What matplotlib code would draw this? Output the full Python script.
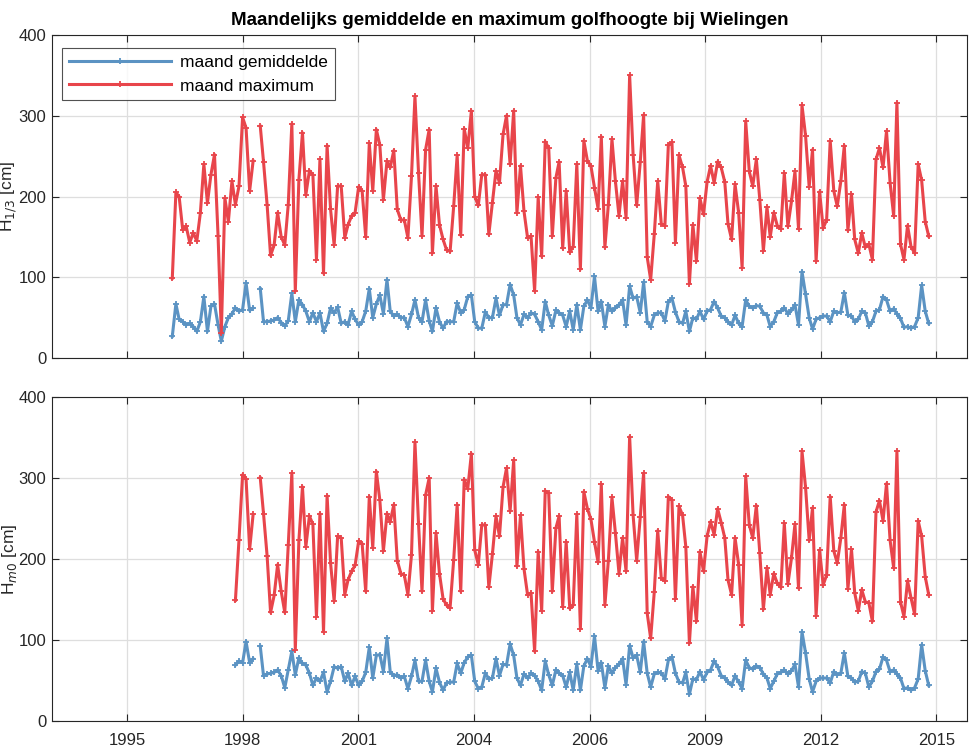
import numpy as np
import pandas as pd
import matplotlib
matplotlib.use('Agg')
import matplotlib.pyplot as plt

plt.rcParams['font.family'] = ['Liberation Sans', 'DejaVu Sans']

nan = np.nan

# monthly values, H1/3 (top panel), starting January 1997
h13_mean = [27, 67, 48, 45, 41, 43, 39, 33, 45, 76, 33, 64, 67, 41, 21, 39, 50, 55, 62, 58,
            60, 93, 59, 62, nan, 86, 45, 45, 46, 47, 50, 44, 40, 46, 80, 45, 72, 66, 58, 45,
            56, 45, 56, 33, 43, 62, 56, 63, 43, 45, 41, 58, 48, 41, 45, 58, 86, 50, 67, 78,
            55, 97, 58, 52, 54, 50, 50, 39, 54, 72, 50, 45, 72, 46, 33, 62, 45, 37, 45, 45,
            45, 68, 56, 60, 76, 78, 45, 37, 37, 57, 50, 50, 74, 53, 66, 66, 91, 78, 50, 41,
            54, 50, 56, 54, 45, 35, 70, 53, 40, 59, 56, 53, 39, 58, 35, 66, 35, 64, 72, 62,
            101, 58, 70, 39, 66, 58, 62, 66, 72, 41, 89, 74, 76, 56, 94, 45, 39, 53, 56, 56,
            46, 70, 74, 57, 45, 43, 58, 33, 50, 48, 58, 48, 58, 60, 70, 62, 52, 50, 45, 41,
            53, 43, 39, 72, 64, 62, 65, 64, 56, 53, 39, 45, 56, 58, 62, 55, 59, 66, 41, 107,
            79, 50, 36, 48, 50, 52, 52, 45, 58, 56, 57, 81, 53, 52, 45, 48, 58, 56, 40, 45,
            58, 60, 76, 72, 58, 61, 55, 49, 38, 39, 37, 39, 50, 90, 58, 43]
h13_max = [99, 205, 200, 159, 163, 143, 155, 145, 180, 240, 192, 227, 252, 151, 31, 198, 169, 219, 190, 213,
           298, 285, 207, 244, nan, 287, 243, 190, 127, 140, 180, 150, 140, 190, 290, 83, 221, 279, 202, 232,
           227, 122, 246, 105, 263, 184, 140, 213, 213, 149, 165, 176, 180, 212, 207, 150, 266, 207, 283, 264,
           196, 244, 236, 257, 184, 171, 171, 149, 225, 324, 229, 151, 258, 283, 130, 213, 165, 147, 134, 132,
           188, 251, 152, 284, 260, 306, 200, 189, 227, 227, 153, 192, 232, 217, 277, 300, 240, 306, 180, 238,
           182, 149, 151, 83, 199, 126, 268, 260, 151, 223, 243, 136, 207, 131, 138, 240, 110, 269, 244, 238,
           211, 185, 274, 137, 190, 271, 219, 176, 219, 174, 350, 252, 189, 243, 301, 125, 97, 153, 219, 166,
           164, 264, 267, 143, 251, 236, 213, 92, 165, 120, 198, 178, 218, 238, 217, 243, 236, 218, 166, 147,
           215, 180, 112, 293, 231, 213, 246, 196, 133, 187, 150, 180, 164, 160, 229, 163, 194, 231, 160, 313,
           275, 212, 258, 120, 206, 161, 171, 269, 207, 188, 219, 263, 158, 203, 147, 130, 155, 137, 141, 122,
           246, 260, 236, 281, 217, 176, 316, 141, 122, 164, 138, 130, 240, 220, 169, 151]

# monthly values, Hm0 (bottom panel), starting July 1998
hm0_mean = [69, 74, 72, 98, 72, 77, nan, 92, 56, 58, 59, 60, 63, 56, 41, 63, 86, 57, 78, 71,
            69, 59, 44, 53, 49, 60, 36, 49, 67, 65, 67, 49, 59, 44, 55, 44, 49, 60, 91, 53,
            81, 82, 61, 102, 61, 56, 57, 53, 55, 40, 55, 75, 49, 49, 75, 49, 36, 65, 48, 38,
            47, 48, 48, 71, 59, 72, 79, 81, 49, 40, 42, 59, 52, 53, 77, 56, 70, 69, 95, 81,
            53, 44, 58, 53, 59, 56, 49, 38, 74, 57, 44, 63, 59, 56, 42, 60, 38, 70, 38, 68,
            77, 67, 105, 62, 72, 41, 68, 59, 66, 70, 77, 45, 93, 78, 81, 60, 98, 59, 42, 58,
            60, 59, 52, 75, 79, 59, 48, 47, 60, 33, 52, 51, 61, 51, 60, 63, 74, 67, 56, 53,
            48, 44, 56, 48, 40, 75, 66, 64, 68, 66, 58, 53, 40, 49, 58, 60, 63, 58, 62, 70,
            42, 110, 84, 52, 36, 49, 53, 53, 53, 47, 61, 57, 59, 84, 55, 53, 48, 49, 61, 59,
            42, 49, 61, 64, 79, 75, 61, 63, 58, 53, 40, 41, 38, 41, 52, 94, 62, 44]
hm0_max = [149, 224, 304, 299, 212, 255, nan, 300, 256, 204, 134, 155, 193, 160, 134, 217, 306, 88, 223, 289,
           215, 253, 243, 129, 256, 110, 278, 195, 148, 228, 226, 156, 174, 185, 192, 222, 219, 160, 277, 214,
           308, 273, 210, 256, 246, 267, 198, 182, 180, 156, 205, 344, 243, 160, 279, 300, 136, 232, 182, 151,
           143, 140, 199, 267, 160, 298, 287, 330, 211, 193, 242, 242, 165, 206, 253, 228, 289, 312, 259, 322,
           191, 254, 188, 156, 158, 86, 209, 136, 284, 281, 160, 238, 253, 141, 221, 139, 143, 255, 114, 283,
           262, 249, 221, 196, 292, 143, 198, 276, 232, 182, 226, 185, 351, 254, 198, 252, 306, 133, 102, 159,
           235, 176, 173, 277, 273, 151, 265, 254, 215, 96, 166, 123, 209, 185, 228, 246, 230, 262, 245, 226,
           174, 156, 226, 193, 118, 302, 242, 226, 266, 207, 138, 189, 156, 182, 170, 165, 244, 169, 201, 243,
           164, 333, 288, 223, 263, 130, 211, 168, 180, 277, 210, 195, 226, 267, 163, 212, 158, 136, 162, 147,
           146, 123, 258, 272, 247, 293, 223, 189, 333, 147, 129, 173, 152, 132, 247, 228, 178, 156]

# MATLAB style date ticks: datenum 729000 ... 736000
tick_datenum = [729000, 730000, 731000, 732000, 733000, 734000, 735000, 736000]
tick_labels = ['1995', '1998', '2001', '2004', '2006', '2009', '2012', '2015']

t_top = pd.date_range('1997-01-01', periods=len(h13_max), freq='MS')
t_bot = pd.date_range('1998-07-01', periods=len(hm0_max), freq='MS')

epoch = 719529  # datenum of 1970-01-01
def to_days(t):
    return (t - pd.Timestamp('1970-01-01')).days.values.astype(float)

x_top = to_days(t_top)
x_bot = to_days(t_bot)
ticks = np.array(tick_datenum) - epoch

c_blue = '#5B93C3'
c_red = '#E8454B'
c_ax = '#262626'

fig = plt.figure(figsize=(9.73, 7.53), dpi=100)
ax1 = fig.add_axes([0.0534, 0.5245, 0.9404, 0.4290])
ax2 = fig.add_axes([0.0534, 0.0425, 0.9404, 0.4303])

def style(ax):
    ax.set_xlim(728350 - epoch, 736265 - epoch)
    ax.set_ylim(0, 400)
    ax.set_yticks([0, 100, 200, 300, 400])
    ax.set_xticks(ticks)
    ax.grid(True, color='#dedede', linewidth=0.9)
    ax.set_axisbelow(True)
    ax.tick_params(direction='in', top=True, right=True, length=5,
                   labelsize=12, color=c_ax, labelcolor=c_ax)
    ax.tick_params(axis='x', pad=9)
    ax.tick_params(axis='y', pad=4)
    for s in ax.spines.values():
        s.set_color(c_ax)
        s.set_linewidth(0.8)
    ax.yaxis.set_label_coords(-0.036, 0.5)

kw = dict(linewidth=2.2, marker='+', markersize=4.5, markeredgewidth=1.3)

ax1.plot(x_top, h13_mean, color=c_blue, label='maand gemiddelde', **kw)
ax1.plot(x_top, h13_max, color=c_red, label='maand maximum', **kw)
style(ax1)
ax1.set_xticklabels([])
ax1.set_ylabel('H$_{1/3}$ [cm]', fontsize=12.5, color=c_ax)
ax1.set_title('Maandelijks gemiddelde en maximum golfhoogte bij Wielingen',
              fontsize=13.5, fontweight='bold', pad=7)
leg = ax1.legend(loc='upper left', bbox_to_anchor=(0.011, 0.96), borderaxespad=0,
                 fontsize=12.5, fancybox=False, edgecolor=c_ax,
                 handlelength=5.9, handletextpad=0.5, borderpad=0.4, labelspacing=0.48)
leg.get_frame().set_linewidth(0.8)

ax2.plot(x_bot, hm0_mean, color=c_blue, **kw)
ax2.plot(x_bot, hm0_max, color=c_red, **kw)
style(ax2)
ax2.set_xticklabels(tick_labels)
ax2.set_ylabel('H$_{m0}$ [cm]', fontsize=12.5, color=c_ax)

fig.savefig('out.png', dpi=100)
